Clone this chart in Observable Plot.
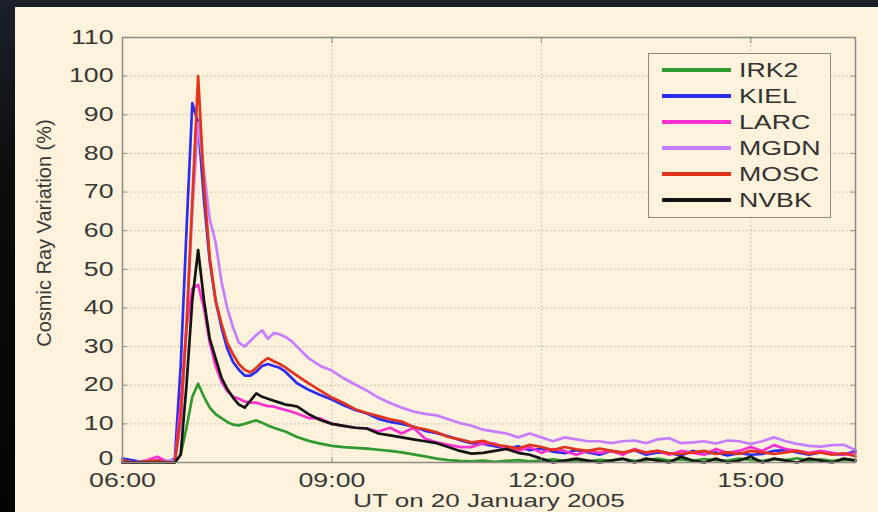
<!DOCTYPE html>
<html>
<head>
<meta charset="utf-8">
<script src="https://cdn.jsdelivr.net/npm/d3@7"></script>
<script src="https://cdn.jsdelivr.net/npm/@observablehq/plot@0.6"></script>
<style>
  html, body { margin: 0; padding: 0; width: 878px; height: 512px; overflow: hidden; }
  body { background: linear-gradient(180deg, #1b2029 0%, #0c0c0d 35%, #030303 100%); font-family: "Liberation Sans", Arial, sans-serif; }
  #panel { position: absolute; left: 15px; top: 7px; width: 863px; height: 505px; background: #fdf3dc; }
  #chart svg { display: block; }
  #legend { position: absolute; left: 633px; top: 46px; width: 181px; height: 160px; border: 1.5px solid #8f8b83; background: #fdf3dc; padding-top: 3px; box-sizing: content-box; }
  .row { position: relative; height: 26px; }
  .row .swatch { position: absolute; left: 13px; top: 11px; width: 69px; height: 4px; }
  .row .name { position: absolute; left: 90px; top: 2px; font-size: 19.5px; line-height: 22px; color: #333; transform: scaleX(1.37); transform-origin: left center; white-space: nowrap; }
</style>
</head>
<body>
<div id="panel">
  <div id="chart"></div>
  <div id="legend"></div>
</div>
<script>
// Neutron monitor count-rate increases during the GLE of 20 January 2005.
const times = [
  "06:00","06:10","06:20","06:30","06:40","06:45","06:50","06:55","07:00","07:05",
  "07:10","07:15","07:20","07:25","07:30","07:35","07:40","07:45","07:50","07:55",
  "08:00","08:05","08:10","08:15","08:20","08:25","08:30","08:40","08:50","09:00",
  "09:10","09:20","09:30","09:40","09:50","10:00","10:10","10:20","10:30","10:40",
  "10:50","11:00","11:10","11:20","11:30","11:40","11:50","12:00","12:10","12:20",
  "12:30","12:40","12:50","13:00","13:10","13:20","13:30","13:40","13:50","14:00",
  "14:10","14:20","14:30","14:40","14:50","15:00","15:10","15:20","15:30","15:40",
  "15:50","16:00","16:10","16:20","16:30"
];

const stations = ["IRK2", "KIEL", "LARC", "MGDN", "MOSC", "NVBK"];
const colors = ["#2f9a2f", "#2d2df2", "#ff2fd0", "#c77dff", "#e4331b", "#141414"];

const irk2 = [
  0, 0.3, 0, 0.2, 0, 0, 2, 9, 17, 20.4,
  17, 14.2, 12.5, 11.5, 10.5, 9.8, 9.6, 10, 10.5, 10.9,
  10.3, 9.6, 9, 8.5, 8, 7.3, 6.6, 5.6, 4.9, 4.3,
  4, 3.8, 3.6, 3.3, 3, 2.6, 2.1, 1.6, 1, 0.6,
  0.4, 0.3, 0.5, 0.2, 0.4, 0.6, 0.3, 0.5, 0.8, 0.4,
  0.6, 0.3, 0.7, 0.5, 0.9, 0.4, 0.6, 1, 0.5, 0.8,
  0.4, 0.9, 0.6, 0.5, 1, 0.7, 0.4, 0.9, 0.6, 1.1,
  0.5, 0.8, 0.4, 0.7, 0.6
];
const kiel = [
  1, 0.5, 0, 0.5, 0.3, 1, 25, 60, 93, 88,
  68, 52, 42, 35, 29.5, 26, 24, 22.5, 22.5, 23.5,
  25, 25.5, 25, 24.5, 23.5, 22, 20.5, 18.8, 17.5, 16.3,
  14.8, 13.6, 12.7, 11.3, 10.5, 10, 9.3, 8.2, 7.6, 6.8,
  5.8, 5, 4.8, 4.2, 3.6, 4.2, 3.2, 3.6, 2.8, 2.4,
  3.2, 2.6, 2, 3, 2.4, 3.2, 2, 2.6, 2.4, 1.8,
  3, 2.2, 2.6, 1.8, 2.4, 2, 2.2, 3, 3.2, 2.6,
  2, 2.6, 2.2, 2, 3
];
const larc = [
  0, 0, 0.5, 1.5, 0, 0, 15, 35, 45, 46,
  40, 31, 25, 21, 18.5, 17, 16.5, 15.8, 15.5, 15.5,
  15, 14.6, 14.5, 14, 13.6, 13.2, 12.7, 11.5, 11.4, 10,
  9.5, 9, 8.8, 8, 9, 7.5, 9, 6.2, 5.2, 4.6,
  4, 4, 5, 4.9, 3.5, 3, 4, 2.5, 3.5, 3,
  2, 3, 2.5, 3, 2, 3.5, 2.5, 3, 2, 3,
  2.5, 2, 3.5, 2.5, 3, 4, 3, 4.5, 3.5, 3,
  2.5, 3, 2.5, 2, 2.5
];
const mgdn = [
  0.5, 0, 0.5, 0, 0.5, 0.5, 10, 35, 65, 88,
  75, 63, 57, 47, 40, 35, 31, 30, 31.5, 33,
  34.2, 32, 33.5, 33.2, 32.5, 31.5, 30, 27, 25, 23.8,
  21.8, 20.2, 18.6, 16.8, 15.4, 14.2, 13.2, 12.6, 12.2, 11.2,
  10.2, 9.5, 8.5, 8, 7.5, 6.5, 7.5, 6.5, 5.5, 6.5,
  6, 5.5, 5.5, 5, 5.5, 5.7, 5, 6, 6.3, 5,
  5.2, 5.5, 4.9, 5.7, 5.5, 4.8, 5.5, 6.5, 5.5, 4.8,
  4.3, 4.1, 4.5, 4.6, 3.2
];
const mosc = [
  0.5, 0, 0.3, 0.5, 0, 0, 12, 35, 68, 100,
  72, 53, 42, 36, 31, 28, 25.5, 24, 23.3, 24.5,
  26, 27, 26.2, 25.5, 24.6, 23.5, 22.5, 20.5, 18.6, 16.8,
  15.4, 13.8, 12.8, 12, 11.2, 10.6, 9.2, 8.6, 7.8, 6.6,
  6, 5.2, 5.6, 4.6, 4.2, 3.6, 4.6, 4, 3.2, 4,
  3.4, 3, 3.6, 3, 2.6, 3.2, 2.6, 3, 2.4, 2.2,
  2.6, 3, 2.2, 2.6, 2.2, 3, 2.6, 2.2, 2.6, 3,
  2.2, 2.6, 2, 2.4, 1.6
];
const nvbk = [
  0, 0, 0, 0, 0, 0, 2, 20, 42, 55,
  42, 32, 27, 22, 19, 16.8, 15, 14.2, 16, 17.9,
  17, 16.5, 16, 15.5, 15, 14.8, 14.5, 12.5, 11, 10,
  9.5, 9, 8.8, 7.5, 7, 6.5, 6, 5.5, 5, 4,
  3, 2.3, 2.5, 3, 3.5, 2.5, 2, 1, 0, 0.5,
  1, 0.5, 0, 0.5, 1, 0, 1, 0.5, 0, 1.5,
  0.5, 0, 1, 0, 0.5, 1.5, 0, 1, 0.5, 0,
  1, 0.5, 0, 1, 0.5
];

const xTickLabels = ["06:00", "09:00", "12:00", "15:00"];
const yTicks = [0, 10, 20, 30, 40, 50, 60, 70, 80, 90, 100, 110];
const xTitle = "UT on 20 January 2005";
const yTitle = "Cosmic Ray Variation (%)";

const day = Date.UTC(2005, 0, 20);
const toDate = (s) => new Date(day + (+s.slice(0, 2)) * 3600e3 + (+s.slice(3, 5)) * 60e3);

const seriesValues = [irk2, kiel, larc, mgdn, mosc, nvbk];
const rows = [];
stations.forEach((name, k) => {
  seriesValues[k].forEach((v, i) => rows.push({ station: name, time: toDate(times[i]), value: v }));
});
const xTicks = xTickLabels.map(toDate);

const axisColor = "#8f8c86";
const chart = Plot.plot({
  width: 863,
  height: 505,
  marginLeft: 107,
  marginRight: 23,
  marginTop: 30,
  marginBottom: 50,
  style: { background: "transparent", fontFamily: "'Liberation Sans', Arial, sans-serif", fontSize: "19.5px", color: "#383838" },
  x: { type: "utc", domain: [toDate("06:00"), toDate("16:30")] },
  y: { domain: [0, 110] },
  color: { domain: stations, range: colors },
  marks: [
    Plot.gridY(yTicks, { stroke: "#a9a18c", strokeOpacity: 0.8, strokeDasharray: "1.5,2.5" }),
    Plot.gridX(xTicks, { stroke: "#a9a18c", strokeOpacity: 0.8, strokeDasharray: "1.5,2.5" }),
    Plot.line(rows, { x: "time", y: "value", z: "station", stroke: "station", strokeWidth: 2.7, strokeLinejoin: "round" }),
    Plot.frame({ stroke: axisColor, strokeWidth: 1.5 }),
    Plot.axisY(yTicks, { anchor: "left", tickSize: -5, tickPadding: 14, stroke: axisColor, label: null }),
    Plot.axisY(yTicks, { anchor: "right", tickSize: -5, tickFormat: () => "", stroke: axisColor, label: null }),
    Plot.axisX(xTicks, { anchor: "bottom", tickSize: -5, tickPadding: 16, tickFormat: d3.utcFormat("%H:%M"), stroke: axisColor, label: null }),
    Plot.axisX(xTicks, { anchor: "top", tickSize: -5, tickFormat: () => "", stroke: axisColor, label: null }),
    Plot.text([xTitle], { text: (d) => d, frameAnchor: "bottom", textAnchor: "middle", dy: 44, fill: "#383838", fontSize: 19 }),
    Plot.text([yTitle], { text: (d) => d, frameAnchor: "left", textAnchor: "middle", dx: -78, dy: -17, rotate: -90, fill: "#383838", fontSize: 20 })
  ]
});
document.getElementById("chart").appendChild(chart);

// The lettering of this figure is set wide: stretch every horizontal label.
chart.querySelectorAll("text").forEach((t) => {
  if ((t.getAttribute("transform") || "").includes("rotate")) return;
  const len = t.getComputedTextLength();
  if (len > 0) {
    t.setAttribute("textLength", (len * 1.37).toFixed(1));
    t.setAttribute("lengthAdjust", "spacingAndGlyphs");
  }
});

// The zero label of the value axis sits a little above its tick, clear of the time labels.
chart.querySelectorAll('g[aria-label="y-axis tick label"] text').forEach((t) => {
  if (t.textContent === "0") t.setAttribute("dy", "-0.2em");
});

// Station key in the upper right of the plot area.
const legend = document.getElementById("legend");
stations.forEach((name, k) => {
  const row = document.createElement("div");
  row.className = "row";
  const sw = document.createElement("span");
  sw.className = "swatch";
  sw.style.background = colors[k];
  const label = document.createElement("span");
  label.className = "name";
  label.textContent = name;
  row.appendChild(sw);
  row.appendChild(label);
  legend.appendChild(row);
});
</script>
</body>
</html>
